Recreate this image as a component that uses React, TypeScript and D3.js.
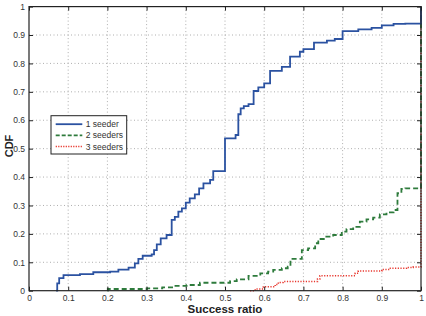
import { useEffect, useRef } from 'react';
import * as d3 from 'd3';

// step points: at x the CDF jumps to y
const seeder1X = [0.069, 0.072, 0.077, 0.088, 0.13, 0.164, 0.207, 0.228, 0.254, 0.27, 0.279, 0.29, 0.313, 0.319, 0.326, 0.336, 0.351, 0.364, 0.372, 0.381, 0.39, 0.4, 0.41, 0.423, 0.434, 0.445, 0.462, 0.47, 0.5, 0.527, 0.534, 0.54, 0.548, 0.56, 0.573, 0.585, 0.6, 0.615, 0.645, 0.666, 0.691, 0.7, 0.727, 0.76, 0.78, 0.8, 0.84, 0.874, 0.9, 0.93, 0.96, 1.0];
const seeder1Y = [0, 0.026, 0.044, 0.055, 0.058, 0.065, 0.067, 0.074, 0.081, 0.096, 0.112, 0.123, 0.128, 0.143, 0.163, 0.184, 0.196, 0.249, 0.26, 0.278, 0.29, 0.31, 0.325, 0.339, 0.36, 0.378, 0.39, 0.421, 0.536, 0.548, 0.621, 0.642, 0.65, 0.657, 0.703, 0.716, 0.73, 0.774, 0.788, 0.824, 0.841, 0.85, 0.873, 0.88, 0.886, 0.914, 0.92, 0.925, 0.934, 0.939, 0.94, 1.0];

const seeder2X = [0.2, 0.201, 0.3, 0.34, 0.368, 0.402, 0.436, 0.513, 0.53, 0.56, 0.59, 0.61, 0.623, 0.645, 0.66, 0.667, 0.696, 0.712, 0.73, 0.738, 0.755, 0.776, 0.798, 0.81, 0.827, 0.844, 0.861, 0.878, 0.895, 0.912, 0.93, 0.94, 0.95, 0.96, 1.0];
const seeder2Y = [0, 0.006, 0.008, 0.012, 0.017, 0.02, 0.028, 0.034, 0.04, 0.052, 0.061, 0.067, 0.073, 0.079, 0.085, 0.112, 0.143, 0.149, 0.167, 0.182, 0.19, 0.196, 0.208, 0.217, 0.225, 0.243, 0.251, 0.257, 0.269, 0.276, 0.284, 0.343, 0.358, 0.36, 1.0];

const seeder3X = [0.564, 0.577, 0.598, 0.628, 0.636, 0.648, 0.736, 0.742, 0.832, 0.84, 0.9, 0.92, 0.963, 0.98, 1.0];
const seeder3Y = [0, 0.006, 0.014, 0.022, 0.029, 0.032, 0.041, 0.053, 0.061, 0.069, 0.075, 0.079, 0.082, 0.083, 1.0];

const seriesNames = ['1 seeder', '2 seeders', '3 seeders'];
const xTicks = [0, 0.1, 0.2, 0.3, 0.4, 0.5, 0.6, 0.7, 0.8, 0.9, 1];
const yTicks = [0, 0.1, 0.2, 0.3, 0.4, 0.5, 0.6, 0.7, 0.8, 0.9, 1];

const FONT = "'Liberation Sans', Arial, Helvetica, sans-serif";

export default function App() {
  const svgRef = useRef<SVGSVGElement>(null);

  useEffect(() => {
    if (!svgRef.current) return;
    const svg = d3.select(svgRef.current);
    svg.selectAll('*').remove();

    const width = 426;
    const height = 316;
    const margin = { top: 6.6, right: 5, bottom: 25.3, left: 29 };
    const innerWidth = width - margin.left - margin.right;
    const innerHeight = height - margin.top - margin.bottom;

    svg.attr('width', width).attr('height', height).attr('viewBox', `0 0 ${width} ${height}`);
    svg.append('rect').attr('width', width).attr('height', height).attr('fill', '#fff');

    const g = svg.append('g').attr('transform', `translate(${margin.left},${margin.top})`);

    const xScale = d3.scaleLinear().domain([0, 1]).range([0, innerWidth]);
    const yScale = d3.scaleLinear().domain([0, 1]).range([innerHeight, 0]);

    // dotted grid
    const grid = g.append('g').attr('stroke', '#9a9a9a').attr('stroke-width', 0.8).attr('stroke-dasharray', '1,2.5');
    xTicks.slice(1, -1).forEach((t) => {
      grid.append('line').attr('x1', xScale(t)).attr('x2', xScale(t)).attr('y1', 0).attr('y2', innerHeight);
    });
    yTicks.slice(1, -1).forEach((t) => {
      grid.append('line').attr('y1', yScale(t)).attr('y2', yScale(t)).attr('x1', 0).attr('x2', innerWidth);
    });

    // series
    const stepLine = (xs: number[], ys: number[]) =>
      d3
        .line<number>()
        .x((_, i) => xScale(xs[i]))
        .y((_, i) => yScale(ys[i]))
        .curve(d3.curveStepAfter)(xs);

    g.append('path')
      .attr('d', stepLine(seeder3X, seeder3Y))
      .attr('fill', 'none')
      .attr('stroke', '#e8352c')
      .attr('stroke-width', 1.5)
      .attr('stroke-dasharray', '1.2,1.5');

    g.append('path')
      .attr('d', stepLine(seeder2X, seeder2Y))
      .attr('fill', 'none')
      .attr('stroke', '#2e7b3c')
      .attr('stroke-width', 1.8)
      .attr('stroke-dasharray', '5,3');

    g.append('path')
      .attr('d', stepLine(seeder1X, seeder1Y))
      .attr('fill', 'none')
      .attr('stroke', '#2b52a1')
      .attr('stroke-width', 1.8);

    // axes with inward ticks
    const fmt = (d: d3.NumberValue) => String(+d);
    const xAxis = g
      .append('g')
      .attr('transform', `translate(0,${innerHeight})`)
      .call(d3.axisBottom(xScale).tickValues(xTicks).tickSizeInner(-4).tickSizeOuter(0).tickPadding(4).tickFormat(fmt));
    const yAxis = g
      .append('g')
      .call(d3.axisLeft(yScale).tickValues(yTicks).tickSizeInner(-4).tickSizeOuter(0).tickPadding(4).tickFormat(fmt));
    g.append('g')
      .call(d3.axisTop(xScale).tickValues(xTicks).tickSizeInner(-4).tickSizeOuter(0).tickFormat(() => ''));
    g.append('g')
      .attr('transform', `translate(${innerWidth},0)`)
      .call(d3.axisRight(yScale).tickValues(yTicks).tickSizeInner(-4).tickSizeOuter(0).tickFormat(() => ''));

    g.selectAll('.domain').remove();
    g.selectAll('.tick line').attr('stroke', '#222');
    [xAxis, yAxis].forEach((a) =>
      a.selectAll('text').attr('font-family', FONT).attr('font-size', 8.5).attr('fill', '#333')
    );

    // axes box
    g.append('rect')
      .attr('width', innerWidth)
      .attr('height', innerHeight)
      .attr('fill', 'none')
      .attr('stroke', '#222')
      .attr('stroke-width', 1.2);

    // axis titles
    svg.append('text')
      .attr('x', margin.left + innerWidth / 2)
      .attr('y', 313.3)
      .attr('text-anchor', 'middle')
      .attr('font-family', FONT)
      .attr('font-weight', 'bold')
      .attr('font-size', 11.5)
      .attr('fill', '#222')
      .text('Success ratio');

    svg.append('text')
      .attr('transform', `translate(13,146) rotate(-90)`)
      .attr('text-anchor', 'middle')
      .attr('font-family', FONT)
      .attr('font-weight', 'bold')
      .attr('font-size', 11)
      .attr('fill', '#222')
      .text('CDF');

    // legend
    const legend = svg.append('g').attr('transform', 'translate(51,115.7)');
    legend.append('rect')
      .attr('width', 75.7)
      .attr('height', 38.3)
      .attr('fill', '#fff')
      .attr('stroke', '#222')
      .attr('stroke-width', 1);
    const legendStyles = [
      { color: '#2b52a1', dash: null, w: 1.8 },
      { color: '#2e7b3c', dash: '4,2', w: 1.8 },
      { color: '#e8352c', dash: '1.2,1.3', w: 1.5 },
    ];
    seriesNames.forEach((name, i) => {
      const y = 8.5 + i * 11.2;
      const s = legendStyles[i];
      const ln = legend.append('line')
        .attr('x1', 4.7).attr('x2', 31.3)
        .attr('y1', y).attr('y2', y)
        .attr('stroke', s.color)
        .attr('stroke-width', s.w);
      if (s.dash) ln.attr('stroke-dasharray', s.dash);
      legend.append('text')
        .attr('x', 34.7)
        .attr('y', y + 3)
        .attr('font-family', FONT)
        .attr('font-size', 8.5)
        .attr('fill', '#333')
        .text(name);
    });
  }, []);

  return <svg ref={svgRef} style={{ position: 'absolute', left: 0, top: 0 }} />;
}
